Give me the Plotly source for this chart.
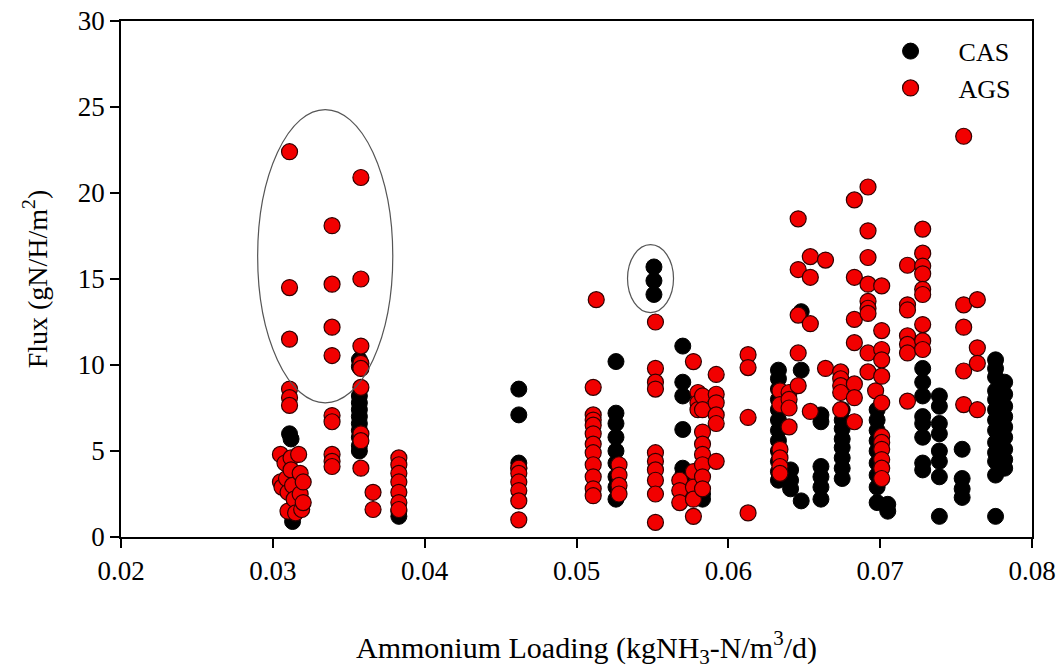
import plotly.graph_objects as go

# ---------------- data ----------------
cas_x = ([0.0311, 0.0312, 0.0313]
         + [0.0357] * 11
         + [0.0383, 0.0383]
         + [0.0462] * 4
         + [0.0526] * 9
         + [0.0551] * 3
         + [0.0570] * 6
         + [0.0583] * 2
         + [0.0633] * 12
         + [0.0641] * 3
         + [0.0648] * 3
         + [0.0661] * 6
         + [0.0675] * 8
         + [0.0698] * 9
         + [0.0705] * 2
         + [0.0728] * 8
         + [0.0739] * 8
         + [0.0754] * 4
         + [0.0776] * 13
         + [0.0782] * 9)
cas_y = ([6.0, 5.7, 0.9]
         + [10.3, 9.9, 8.2, 7.8, 7.4, 7.0, 6.6, 6.2, 5.8, 5.3, 5.0]
         + [1.2, 1.5]
         + [8.6, 7.1, 4.3, 4.0]
         + [10.2, 7.2, 6.6, 5.8, 5.0, 4.3, 3.5, 2.9, 2.2]
         + [15.7, 14.9, 14.1]
         + [11.1, 9.0, 8.2, 6.25, 4.0, 3.6]
         + [2.5, 2.2]
         + [9.7, 9.2, 8.6, 8.0, 7.4, 6.8, 6.2, 5.6, 5.0, 4.4, 3.8, 3.3]
         + [3.9, 3.3, 2.8]
         + [13.1, 9.7, 2.1]
         + [7.1, 6.7, 4.1, 3.5, 2.9, 2.2]
         + [7.4, 6.8, 6.3, 5.7, 5.2, 4.6, 4.0, 3.4]
         + [7.4, 6.8, 6.2, 5.6, 5.0, 4.3, 3.6, 2.9, 2.0]
         + [1.9, 1.5]
         + [9.8, 9.0, 8.2, 7.0, 6.6, 5.8, 4.3, 3.9]
         + [8.2, 7.6, 6.6, 6.0, 5.0, 4.4, 3.5, 1.2]
         + [5.1, 3.4, 2.8, 2.3]
         + [10.3, 9.8, 9.3, 8.5, 8.0, 7.4, 6.8, 6.2, 5.5, 4.9, 4.4, 3.6, 1.2]
         + [9.0, 8.3, 7.6, 7.0, 6.4, 5.8, 5.1, 4.5, 4.0])

ags_x = ([0.0311] * 6
         + [0.0305, 0.0305, 0.0306, 0.0308, 0.0309, 0.0310, 0.0310, 0.0312, 0.0312,
            0.0313, 0.0314, 0.0315, 0.0317, 0.0318, 0.0318, 0.0319, 0.0320, 0.0320]
         + [0.0339] * 9
         + [0.0358] * 9
         + [0.0366] * 2
         + [0.0383] * 7
         + [0.0462] * 6
         + [0.0513] + [0.0511] * 11
         + [0.0528] * 4
         + [0.0552] * 10
         + [0.0568] * 3
         + [0.0577] * 5
         + [0.0580] * 3
         + [0.0583] * 8
         + [0.0592] * 6
         + [0.0613] * 4
         + [0.0634] * 6
         + [0.0640] * 4
         + [0.0646] * 5
         + [0.0654] * 4
         + [0.0664] * 2
         + [0.0674] * 5
         + [0.0683] * 7
         + [0.0692] * 9
         + [0.0697]
         + [0.0701] * 12
         + [0.0718] * 7
         + [0.0728] * 9
         + [0.0755] * 5
         + [0.0764] * 4)
ags_y = ([22.4, 14.5, 11.5, 8.6, 8.1, 7.65]
         + [4.8, 3.2, 2.9, 4.3, 3.4, 2.6, 1.5, 4.6, 3.9, 3.0, 2.2, 1.4, 4.8, 3.7, 2.5, 1.6, 3.2, 2.0]
         + [18.1, 14.7, 12.2, 10.55, 7.06, 6.7, 4.8, 4.4, 4.1]
         + [20.9, 15.0, 11.1, 10.1, 9.8, 8.7, 6.0, 5.6, 4.0]
         + [2.6, 1.6]
         + [4.6, 4.2, 3.7, 3.2, 2.6, 2.0, 1.6]
         + [4.0, 3.7, 3.2, 2.7, 2.1, 1.0]
         + [13.8] + [8.7, 7.1, 6.8, 6.5, 6.0, 5.4, 4.9, 4.2, 3.5, 2.8, 2.4]
         + [4.2, 3.6, 3.0, 2.5]
         + [12.5, 9.8, 9.0, 8.6, 4.9, 4.4, 3.9, 3.3, 2.5, 0.85]
         + [3.3, 2.7, 2.0]
         + [10.2, 3.8, 2.9, 2.2, 1.2]
         + [8.4, 7.8, 7.4]
         + [8.2, 7.4, 6.1, 5.4, 4.8, 4.2, 3.5, 2.8]
         + [9.45, 8.3, 7.8, 7.1, 6.6, 4.4]
         + [10.6, 9.85, 6.95, 1.4]
         + [8.5, 7.7, 5.1, 4.6, 4.1, 3.7]
         + [8.4, 8.0, 7.5, 6.4]
         + [18.5, 15.55, 12.9, 10.7, 8.8]
         + [16.3, 15.1, 12.4, 7.3]
         + [16.1, 9.8]
         + [9.6, 9.2, 8.8, 8.4, 7.4]
         + [19.6, 15.1, 12.65, 11.3, 8.9, 8.1, 6.7]
         + [20.35, 17.8, 16.25, 14.7, 13.7, 13.3, 13.0, 10.7, 9.6]
         + [8.5]
         + [14.6, 12.0, 10.9, 10.3, 9.35, 7.8, 5.85, 5.5, 5.1, 4.5, 4.0, 3.4]
         + [15.8, 13.5, 13.2, 11.7, 11.2, 10.7, 7.9]
         + [17.9, 16.5, 15.75, 15.3, 14.4, 14.1, 12.35, 11.4, 10.9]
         + [23.3, 13.5, 12.2, 9.65, 7.7]
         + [13.8, 11.0, 10.1, 7.4])

x_ticks = [0.02, 0.03, 0.04, 0.05, 0.06, 0.07, 0.08]
x_tick_labels = ["0.02", "0.03", "0.04", "0.05", "0.06", "0.07", "0.08"]
y_ticks = [0, 5, 10, 15, 20, 25, 30]

# ellipses highlighting regions (data coordinates)
ellipse_big = dict(x0=0.0290, x1=0.0379, y0=7.8, y1=24.85)
ellipse_small = dict(x0=0.05336, x1=0.05639, y0=13.05, y1=17.0)

FONT = "Liberation Serif, Times New Roman, serif"

fig = go.Figure()
fig.add_trace(go.Scatter(
    x=cas_x, y=cas_y, mode="markers", name="CAS",
    marker=dict(size=16, color="black", line=dict(color="black", width=1)),
))
fig.add_trace(go.Scatter(
    x=ags_x, y=ags_y, mode="markers", name="AGS",
    marker=dict(size=16, color="#f20000", line=dict(color="#300000", width=1.2)),
))

for e in (ellipse_big, ellipse_small):
    fig.add_shape(type="circle", xref="x", yref="y", **e,
                  line=dict(color="#555555", width=1.2), layer="above")

axis_common = dict(
    showgrid=False, zeroline=False, showline=True, linecolor="black",
    linewidth=1.5, mirror=True, ticks="outside", ticklen=9, tickwidth=1.5,
    tickcolor="black", tickfont=dict(family=FONT, size=27, color="black"),
    automargin=False,
)
fig.update_xaxes(range=[0.02, 0.08], tickvals=x_ticks, ticktext=x_tick_labels, **axis_common)
fig.update_yaxes(range=[0, 30], tickvals=y_ticks, **axis_common)

fig.add_annotation(
    text="Ammonium Loading (kgNH<sub>3</sub>-N/m<sup>3</sup>/d)",
    xref="paper", yref="paper", x=0.511, y=-0.215, xanchor="center", yanchor="middle",
    showarrow=False, font=dict(family=FONT, size=30, color="black"),
)
fig.add_annotation(
    text="Flux (gN/H/m<sup>2</sup>)",
    xref="paper", yref="paper", x=-0.094, y=0.5, xanchor="center", yanchor="middle",
    textangle=-90, showarrow=False, font=dict(family=FONT, size=28, color="black"),
)

fig.update_layout(
    width=1058, height=668,
    margin=dict(l=121, r=26, t=21, b=131),
    paper_bgcolor="white", plot_bgcolor="white",
    showlegend=True,
    legend=dict(
        x=0.814, y=0.987, xanchor="left", yanchor="top",
        font=dict(family=FONT, size=26, color="black"),
        itemwidth=86, bgcolor="rgba(0,0,0,0)", borderwidth=0,
    ),
)

fig.write_html("out.html")
